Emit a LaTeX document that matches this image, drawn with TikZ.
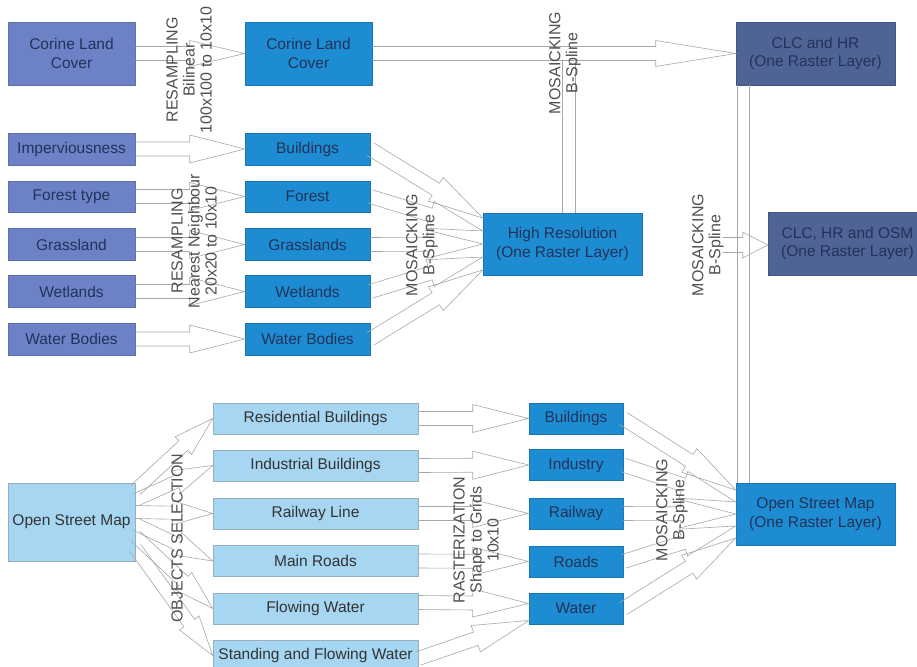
\documentclass[tikz,border=0pt]{standalone}
\usepackage{fontspec}
\setmainfont{Liberation Sans}
\usetikzlibrary{calc}
\definecolor{slate}{HTML}{6D82C6}
\definecolor{bright}{HTML}{1E8CD2}
\definecolor{darkslate}{HTML}{4F6494}
\definecolor{lightb}{HTML}{A6D6F2}
\definecolor{txtdark}{HTML}{22335A}
\definecolor{arrowgray}{HTML}{A8A8A8}
\definecolor{labelgray}{HTML}{505050}
\tikzset{
 box/.style={rectangle, inner sep=0pt, align=center, font=\fontsize{15.5}{18.5}\selectfont, text=txtdark, line width=0.6pt},
 slatebox/.style={box, fill=slate, draw=slate!85!black, minimum width=127pt},
 brightbox/.style={box, fill=bright, draw=bright!85!black},
 darkbox/.style={box, fill=darkslate, draw=darkslate!85!black, minimum width=159pt, minimum height=63pt},
 lightbox/.style={box, fill=lightb, draw=lightb!55!gray, text=black!80, minimum width=205pt, minimum height=31pt},
 arrowline/.style={draw=arrowgray, line width=0.6pt, line join=miter},
 lbl/.style={rotate=90, align=center, font=\fontsize{16}{17}\selectfont, text=labelgray, inner sep=0pt},
}
\newcommand\barrow[5]{%
 \coordinate (ba-h) at ($(#2)!#5!(#1)$);
 \draw[arrowline] ($(#1)!#3!90:(#2)$) -- ($(ba-h)!#3!90:(#2)$) -- ($(ba-h)!#4!90:(#2)$) -- (#2) -- ($(ba-h)!#4!-90:(#2)$) -- ($(ba-h)!#3!-90:(#2)$) -- ($(#1)!#3!-90:(#2)$);
}
\begin{document}
\begin{tikzpicture}[x=1pt, y=-1pt]
\useasboundingbox (0,0) rectangle (917,666);
\clip (0,0) rectangle (917,666);
\fill[white] (0,0) rectangle (917,666);
% top row
\node[slatebox, minimum height=63pt] (clc1) at (71.5,53.5) {Corine Land\\Cover};
\node[brightbox, minimum width=127pt, minimum height=63pt] (clc2) at (308.5,53.5) {Corine Land\\Cover};
\node[darkbox] (clchr) at (815.5,53.5) {CLC and HR\\(One Raster Layer)};
% high resolution block
\node[slatebox, minimum height=32pt] (imp) at (71.5,149) {Imperviousness};
\node[slatebox, minimum height=31pt] (fort) at (71.5,196.5) {Forest type};
\node[slatebox, minimum height=32pt] (grass) at (71.5,244.5) {Grassland};
\node[slatebox, minimum height=32pt] (wet) at (71.5,291.5) {Wetlands};
\node[slatebox, minimum height=32pt] (wb) at (71.5,339) {Water Bodies};
\node[brightbox, minimum width=125pt, minimum height=32pt] (bld) at (307.5,149) {Buildings};
\node[brightbox, minimum width=125pt, minimum height=31pt] (forest) at (307.5,196.5) {Forest};
\node[brightbox, minimum width=125pt, minimum height=32pt] (grl) at (307.5,244.5) {Grasslands};
\node[brightbox, minimum width=125pt, minimum height=32pt] (wtl) at (307.5,291.5) {Wetlands};
\node[brightbox, minimum width=125pt, minimum height=32pt] (wbd) at (307.5,339) {Water Bodies};
\node[brightbox, minimum width=159pt, minimum height=62pt] (hr) at (562.5,244) {High Resolution\\(One Raster Layer)};
\node[darkbox] (all) at (847.5,243.5) {CLC, HR and OSM\\(One Raster Layer)};
% OSM block
\node[box, fill=lightb, draw=lightb!55!gray, text=black!80, minimum width=127pt, minimum height=78pt] (osm) at (71.5,522) {Open Street Map};
\node[lightbox] (res) at (315.5,418.5) {Residential Buildings};
\node[lightbox] (ind) at (315.5,465.5) {Industrial Buildings};
\node[lightbox] (rail) at (315.5,513.5) {Railway Line};
\node[lightbox] (road) at (315.5,561) {Main Roads};
\node[lightbox] (flow) at (315.5,608.5) {Flowing Water};
\node[lightbox] (stand) at (315.5,655.5) {Standing and Flowing Water};
\node[brightbox, minimum width=94pt, minimum height=31pt] (b2) at (576,418.5) {Buildings};
\node[brightbox, minimum width=94pt, minimum height=31pt] (i2) at (576,465) {Industry};
\node[brightbox, minimum width=94pt, minimum height=31pt] (r2) at (576,513.5) {Railway};
\node[brightbox, minimum width=94pt, minimum height=31pt] (ro2) at (576,561.5) {Roads};
\node[brightbox, minimum width=94pt, minimum height=31pt] (w2) at (576,608.5) {Water};
\node[brightbox, minimum width=159pt, minimum height=62pt] (osmr) at (815.5,514) {Open Street Map\\(One Raster Layer)};
% arrows top
\barrow{clc1.east}{clc2.west}{7pt}{13pt}{55pt}
\barrow{clc2.east}{clchr.west}{7pt}{13pt}{80pt}
\coordinate (lowshaft) at ($(clc2.east)+(0,7)$);
\draw[arrowline] ($(hr.north)+(-0.5,0)$) coordinate (v1) -- (v1 |- lowshaft);
\draw[arrowline] ($(hr.north)+(12.5,0)$) coordinate (v2) -- (v2 |- lowshaft);
\draw[arrowline] ($(clchr.south west)+(2,0)$) coordinate (v3) -- (v3 |- osmr.north);
\draw[arrowline] ($(clchr.south west)+(14,0)$) coordinate (v4) -- (v4 |- osmr.north);
\coordinate (sa) at ($(all.west)+(-45,1.5)$);
\coordinate (sb) at ($(all.west)+(0,1.5)$);
\barrow{sa}{sb}{7.5pt}{13pt}{25pt}
% arrows HR block
\foreach \a/\b in {imp/bld, fort/forest, grass/grl, wet/wtl, wb/wbd} {\barrow{\a.east}{\b.west}{7pt}{14pt}{55pt}}
\foreach \a/\o in {bld/-26, forest/-13, grl/0, wtl/13, wbd/26} {
 \coordinate (t) at ($(hr.west)+(0,\o)$);
 \barrow{\a.east}{t}{7pt}{14pt}{55pt}}
% arrows OSM block
\foreach \b/\o in {res/-32, ind/-22, rail/-10, road/2, flow/14, stand/26} {
 \coordinate (s) at ($(osm.east)+(0,\o)$);
 \barrow{s}{\b.west}{6.5pt}{12pt}{40pt}}
\foreach \a/\b in {res/b2, ind/i2, rail/r2, road/ro2} {\barrow{\a.east}{\b.west}{7pt}{14pt}{56pt}}
\coordinate (fs) at ($(flow.east)+(0,-6)$);
\coordinate (ft) at ($(w2.west)+(0,-5)$);
\barrow{fs}{ft}{7pt}{14pt}{56pt}
\coordinate (ss) at ($(stand.east)+(0,3)$);
\coordinate (st) at ($(w2.west)+(0,12)$);
\barrow{ss}{st}{7pt}{14pt}{56pt}
\foreach \a/\o in {b2/-24, i2/-12, r2/0, ro2/12, w2/24} {
 \coordinate (t) at ($(osmr.west)+(0,\o)$);
 \barrow{\a.east}{t}{7pt}{14pt}{55pt}}
% labels
\node[lbl] (l1) at (189,70) {RESAMPLING\\Bilinear\\100x100 to 10x10};
\node[lbl] (l2) at (194,241) {RESAMPLING\\Nearest Neighbour\\20x20 to 10x10};
\node[lbl] (l3) at (422,245) {MOSAICKING\\B-Spline};
\node[lbl] (l4) at (565,63) {MOSAICKING\\B-Spline};
\node[lbl] (l5) at (708,245) {MOSAICKING\\B-Spline};
\node[lbl] (l6) at (177,538) {OBJECTS SELECTION};
\node[lbl] (l7) at (476,540) {RASTERIZATION\\Shape to Grids\\10x10};
\node[lbl] (l8) at (672,510) {MOSAICKING\\B-Spline};
\end{tikzpicture}
\end{document}
